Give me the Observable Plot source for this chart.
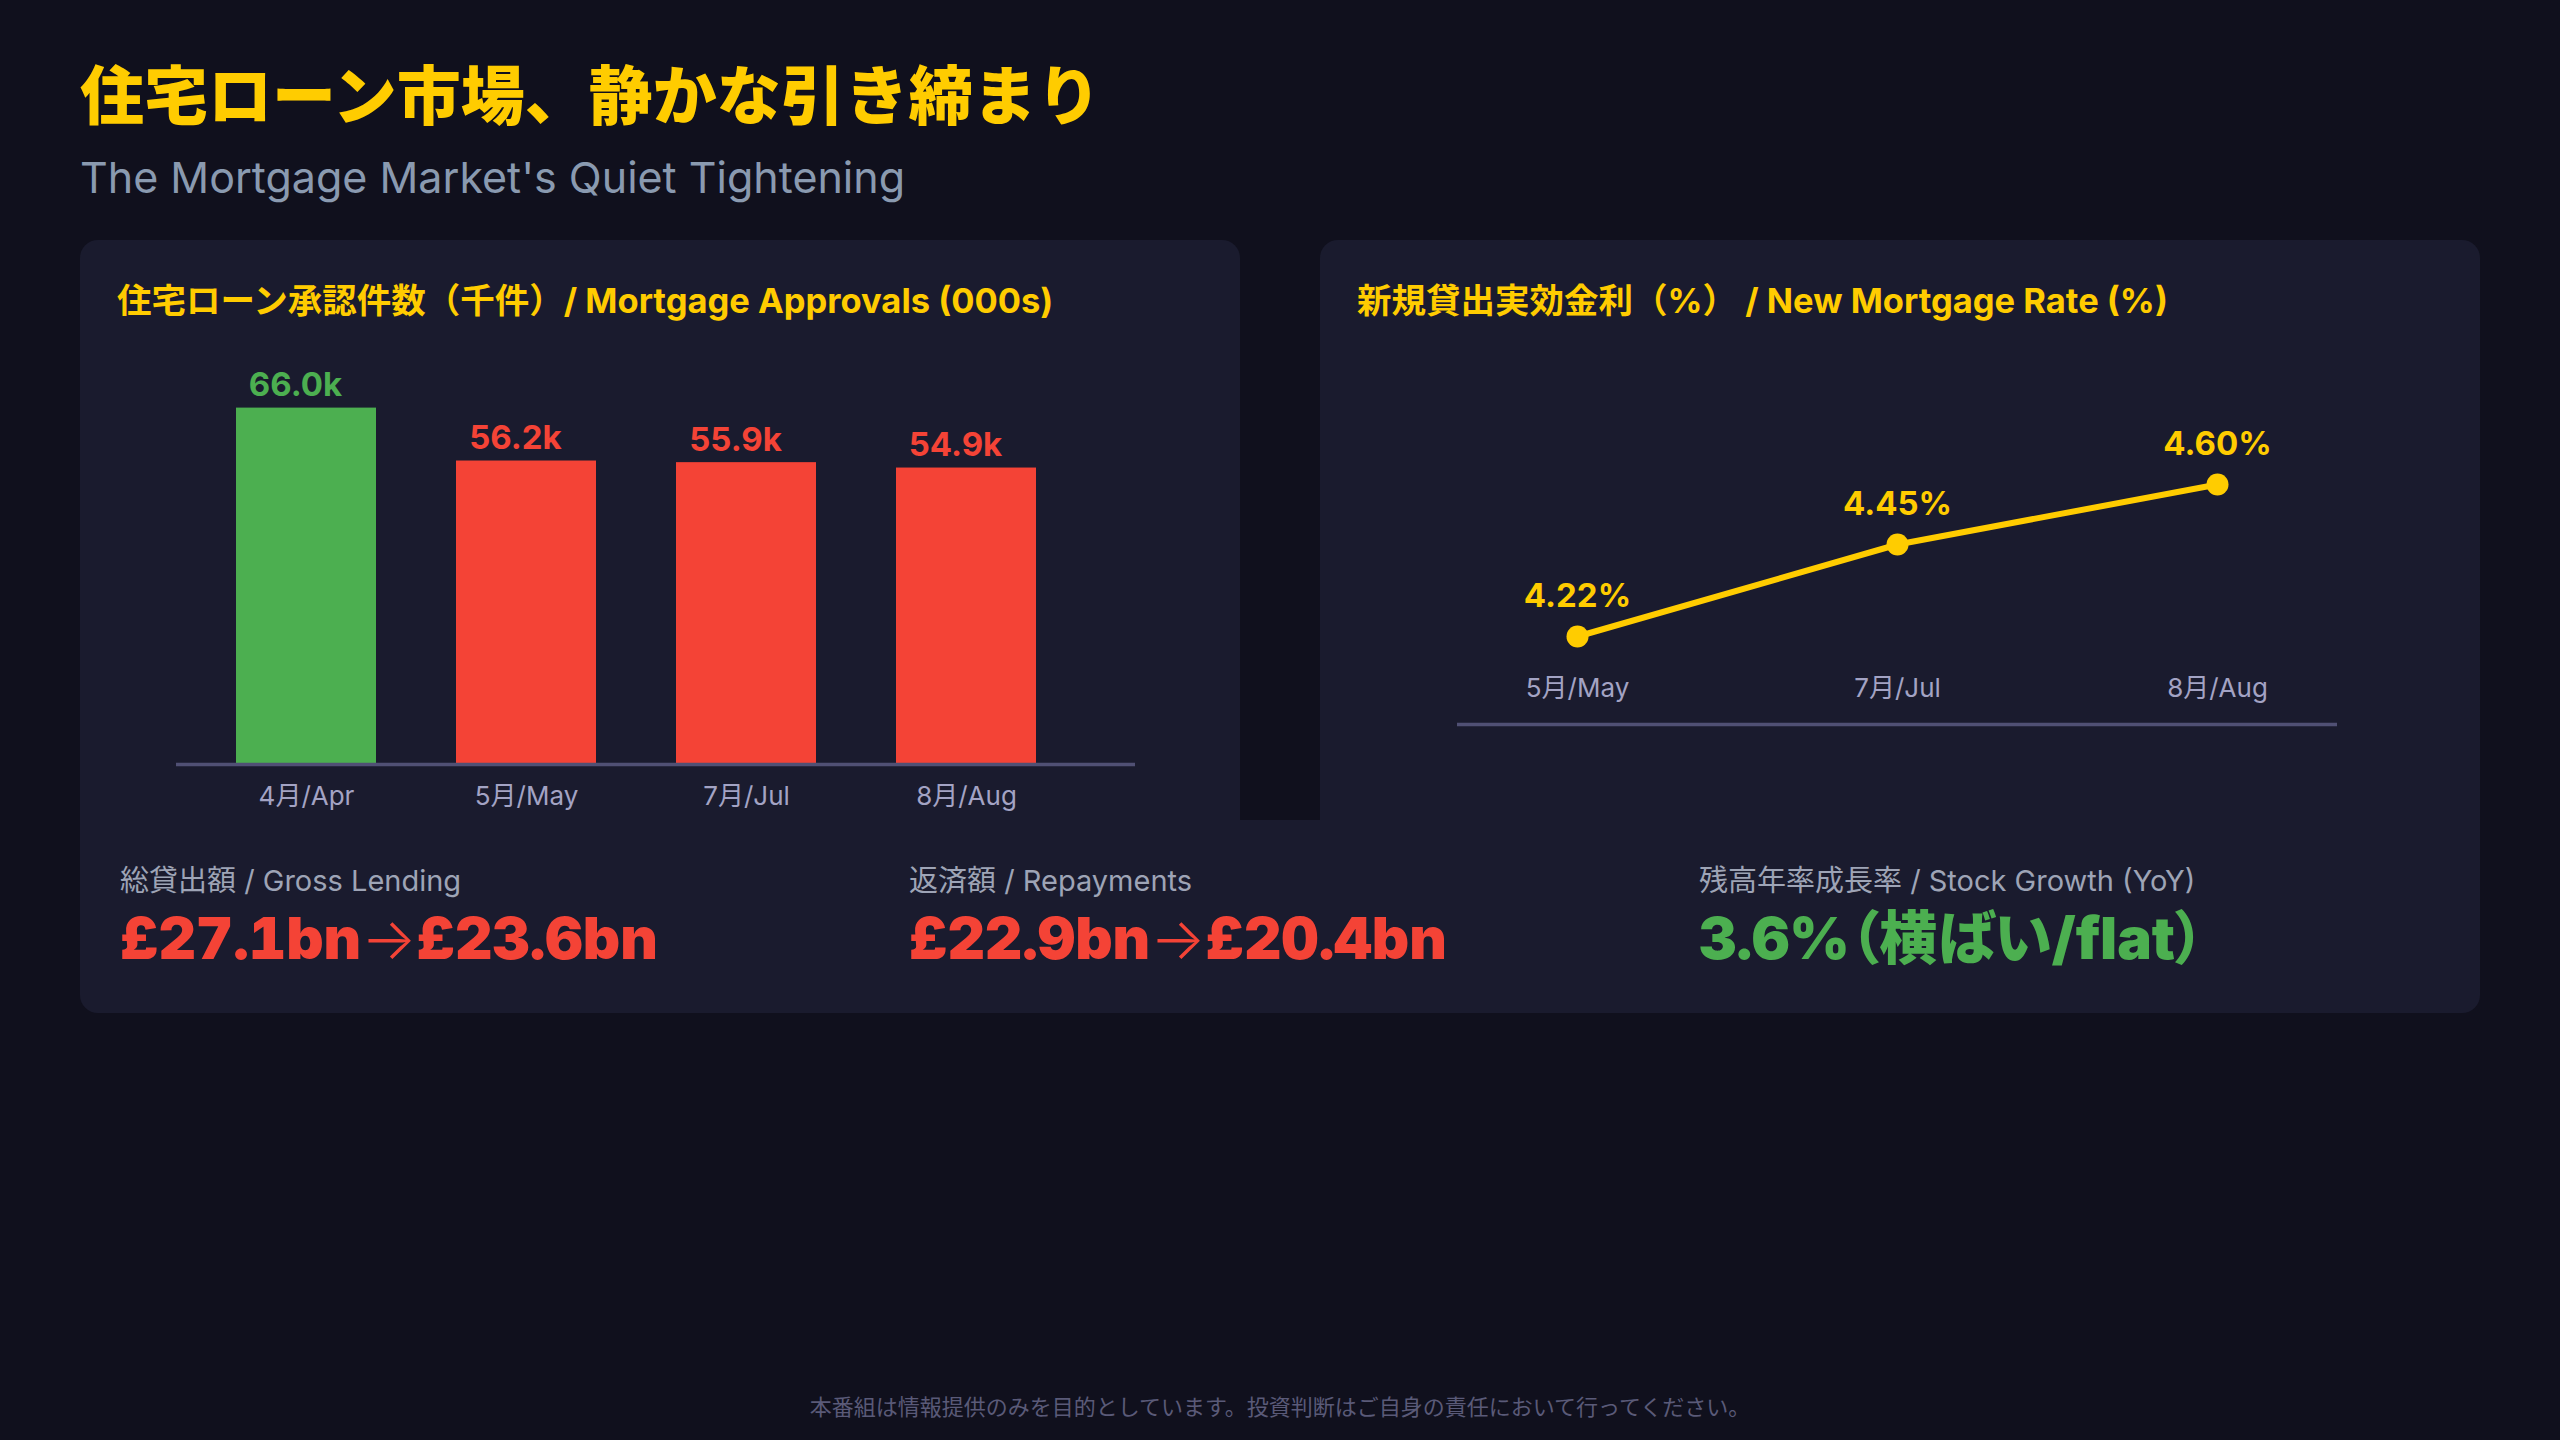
<!DOCTYPE html>
<html>
<head>
<meta charset="utf-8">
<script src="https://cdn.jsdelivr.net/npm/d3@7"></script>
<script src="https://cdn.jsdelivr.net/npm/@observablehq/plot@0.6"></script>
<style>
  html, body { margin: 0; padding: 0; background: #10101d; }
  #page { position: relative; width: 2560px; height: 1440px; background: #10101d; overflow: hidden;
          font-family: "Inter", "Noto Sans CJK JP", "Noto Sans", sans-serif; }
  .abs { position: absolute; line-height: 1; white-space: nowrap; }
  .title { left: 80px; top: 59px; font-size: 64px; font-weight: 900; color: #ffcc00; font-family: "Noto Sans CJK JP", sans-serif; }
  .subtitle { left: 80px; top: 156px; font-size: 43px; font-weight: 400; color: #8a9ab0; }
  .panel { position: absolute; top: 240px; width: 1160px; height: 580px; background: #1a1b2e;
           border-radius: 18px 18px 0 0; }
  .ptitle { position: absolute; left: 37px; top: 44px; font-size: 34.5px; font-weight: 700; color: #ffcc00;
            line-height: 1; white-space: nowrap; z-index: 2; }
  .chart { position: absolute; left: 0; top: 0; }
  .kpis { position: absolute; left: 80px; top: 820px; width: 2400px; height: 193px; background: #1a1b2e;
          border-radius: 0 0 18px 18px; }
  .kpi { position: absolute; top: 0; }
  .klabel { position: absolute; top: 46px; left: 0; font-size: 29px; color: #9ea4b6; line-height: 1; white-space: nowrap; }
  .kvalue { position: absolute; top: 89px; left: 0; font-size: 58px; font-weight: 900; line-height: 1; white-space: nowrap;
            font-feature-settings: "palt", "tnum"; font-variant-numeric: tabular-nums; }
  .kvalue .arrow { font-weight: 300; }
  .footer { left: 0; width: 2560px; text-align: center; top: 1394px; font-size: 22px; color: #5a5a78; font-family: "Noto Sans CJK JP", sans-serif; }
</style>
</head>
<body>
<div id="page">
  <div class="abs title" id="title"></div>
  <div class="abs subtitle" id="subtitle"></div>
  <div class="panel" id="p1" style="left:80px"><div class="ptitle" id="t1"></div><div class="chart" id="chart1"></div></div>
  <div class="panel" id="p2" style="left:1320px"><div class="ptitle" id="t2"></div><div class="chart" id="chart2"></div></div>
  <div class="kpis" id="kpis"></div>
  <div class="abs footer" id="footer"></div>
</div>
<script>
// ---- Data ----
const titleText = "住宅ローン市場、静かな引き締まり";
const subtitleText = "The Mortgage Market's Quiet Tightening";
const approvalsTitle = "住宅ローン承認件数（千件）/ Mortgage Approvals (000s)";
const rateTitle = "新規貸出実効金利（%） / New Mortgage Rate (%)";

const approvalMonths = ["4月/Apr", "5月/May", "7月/Jul", "8月/Aug"];
const approvalValues = [66.0, 56.2, 55.9, 54.9];

const rateMonths = ["5月/May", "7月/Jul", "8月/Aug"];
const rateValues = [4.22, 4.45, 4.60];

const kpiLabels = ["総貸出額 / Gross Lending", "返済額 / Repayments", "残高年率成長率 / Stock Growth (YoY)"];
const kpiValues = ["£27.1bn→£23.6bn", "£22.9bn→£20.4bn", "3.6%（横ばい/flat）"];
const kpiTrend = ["down", "down", "flat"];

const footerText = "本番組は情報提供のみを目的としています。投資判断はご自身の責任において行ってください。";

// ---- Styles ----
const FONT = '"Inter", "Noto Sans CJK JP", "Noto Sans", sans-serif';
const YELLOW = "#ffcc00", GREEN = "#4caf50", RED = "#f44336";
const AXIS = "#505074", TICK = "#a3a3c4";

document.getElementById("title").textContent = titleText;
document.getElementById("subtitle").textContent = subtitleText;
document.getElementById("t1").textContent = approvalsTitle;
document.getElementById("t2").textContent = rateTitle;
document.getElementById("footer").textContent = footerText;

// ---- Bar chart ----
const approvals = approvalMonths.map((m, i) => ({month: m, value: approvalValues[i], trend: i === 0 ? "base" : "down"}));
const chart1 = Plot.plot({
  width: 1160, height: 580,
  marginLeft: 96, marginRight: 105, marginTop: 119, marginBottom: 56,
  x: {domain: approvalMonths, paddingInner: 0.3636, paddingOuter: 0.361, align: 0.377, axis: null},
  y: {domain: [0, 75], axis: null},
  color: {domain: ["base", "down"], range: [GREEN, RED]},
  style: {background: "transparent", fontFamily: FONT, fontSize: "26px", overflow: "visible"},
  marks: [
    Plot.barY(approvals, {x: "month", y: "value", fill: "trend"}),
    Plot.ruleY([0], {stroke: AXIS, strokeWidth: 3.5}),
    Plot.text(approvals, {x: "month", y: "value", text: d => `${d.value.toFixed(1)}k`, fill: "trend",
      lineAnchor: "bottom", dy: -12, dx: -11, fontSize: 33, fontWeight: 700}),
    Plot.axisX({tickSize: 0, tickPadding: 22, fontSize: 26, color: TICK, label: null})
  ]
});
document.getElementById("chart1").append(chart1);

// ---- Line chart ----
const rates = rateMonths.map((m, i) => ({month: m, value: rateValues[i]}));
const chart2 = Plot.plot({
  width: 1160, height: 580,
  marginLeft: 137, marginRight: 143, marginTop: 164, marginBottom: 96,
  x: {type: "point", domain: rateMonths, padding: 0.375, axis: null},
  y: {domain: [4.0, 4.8], axis: null},
  style: {background: "transparent", fontFamily: FONT, fontSize: "26px", overflow: "visible"},
  marks: [
    Plot.ruleY([4.0], {stroke: AXIS, strokeWidth: 3.5}),
    Plot.axisX({tickSize: 0, tickPadding: -46, fontSize: 26, color: TICK, label: null}),
    Plot.line(rates, {x: "month", y: "value", stroke: YELLOW, strokeWidth: 6}),
    Plot.dot(rates, {x: "month", y: "value", r: 11, fill: YELLOW}),
    Plot.text(rates, {x: "month", y: "value", text: d => `${d.value.toFixed(2)}%`, fill: YELLOW,
      lineAnchor: "bottom", dy: -30, fontSize: 33, fontWeight: 700})
  ]
});
document.getElementById("chart2").append(chart2);

// ---- KPI row ----
const kpiColor = {down: RED, flat: GREEN};
const kpiLeft = [40, 829, 1619];
const kpis = document.getElementById("kpis");
kpiLabels.forEach((lab, i) => {
  const d = document.createElement("div");
  d.className = "kpi";
  d.style.left = kpiLeft[i] + "px";
  const l = document.createElement("div"); l.className = "klabel"; l.textContent = lab;
  const v = document.createElement("div"); v.className = "kvalue";
  v.style.color = kpiColor[kpiTrend[i]];
  kpiValues[i].split("→").forEach((part, j) => {
    if (j > 0) {
      const a = document.createElement("span"); a.className = "arrow"; a.textContent = "→"; v.append(a);
    }
    v.append(document.createTextNode(part));
  });
  d.append(l, v);
  kpis.append(d);
});
</script>
</body>
</html>
